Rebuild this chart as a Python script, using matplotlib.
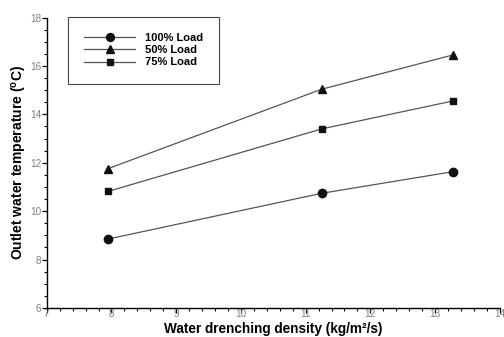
import matplotlib
matplotlib.use("Agg")
import matplotlib.pyplot as plt
from matplotlib.ticker import MultipleLocator

plt.rcParams['font.family'] = ['Liberation Sans', 'DejaVu Sans']

x = [7.95, 11.25, 13.27]
load100 = [8.85, 10.74, 11.63]
load50 = [11.76, 15.04, 16.45]
load75 = [10.82, 13.4, 14.55]
labels = ['100% Load', '50% Load', '75% Load']

fig = plt.figure(figsize=(5.04, 3.37), dpi=100)
ax = fig.add_axes([0.0927, 0.086, 0.899, 0.862])

lc = '#555555'
ax.plot(x, load100, color=lc, lw=0.9, marker='o', ms=6, mfc='#111111', mec='#111111', label=labels[0])
ax.plot(x, load50, color=lc, lw=0.9, marker='^', ms=6, mfc='#111111', mec='#111111', label=labels[1])
ax.plot(x, load75, color=lc, lw=0.9, marker='s', ms=5, mfc='#111111', mec='#111111', label=labels[2])

ax.set_xlim(7, 14)
ax.set_ylim(6, 18)
ax.xaxis.set_major_locator(MultipleLocator(1))
ax.xaxis.set_minor_locator(MultipleLocator(0.2))
ax.yaxis.set_major_locator(MultipleLocator(2))
ax.yaxis.set_minor_locator(MultipleLocator(0.5))
for s in ['top', 'right']:
    ax.spines[s].set_visible(False)
ax.spines['left'].set_linewidth(1.0)
ax.spines['bottom'].set_linewidth(1.0)
ax.tick_params(which='major', direction='out', length=3.5, width=0.9, labelsize=7.2, labelcolor='#808080', pad=0.5)
ax.tick_params(which='minor', direction='out', length=2.5, width=0.8)
ax.tick_params(axis='x', which='major', pad=-2.5)

ax.set_xlabel('Water drenching density (kg/m\u00b2/s)', fontsize=9.8, fontweight='bold', va='center')
ax.xaxis.set_label_coords(0.5, -0.072)
ax.set_ylabel('Outlet water temperature ($^\\mathregular{o}$C)', fontsize=10, fontweight='bold', va='center')
ax.yaxis.set_label_coords(-0.061, 0.5)

leg = ax.legend(loc='upper left', bbox_to_anchor=(0.047, 1.002), fancybox=False, edgecolor='#444444',
                framealpha=1, handlelength=4.6, prop={'size': 8, 'weight': 'bold'},
                borderpad=1.45, labelspacing=0.2, handletextpad=0.9, borderaxespad=0,
                markerscale=0.95)
leg.get_frame().set_linewidth(0.8)

fig.savefig('out.png', dpi=100)
